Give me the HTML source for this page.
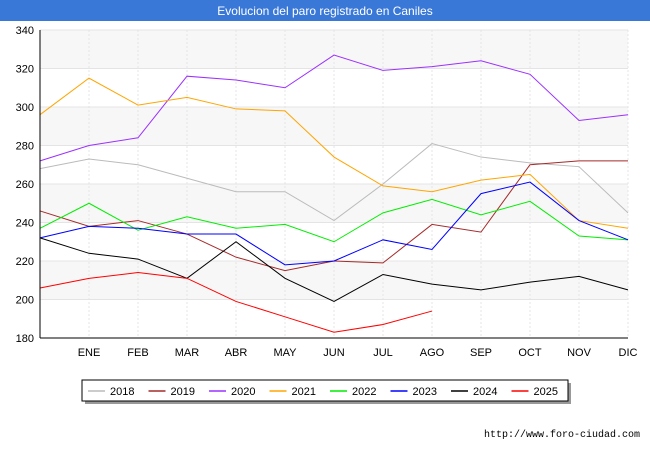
<!DOCTYPE html>
<html><head><meta charset="utf-8"><style>
body{margin:0;background:#fff;font-family:"Liberation Sans",sans-serif}
#wrap{position:relative;width:650px;height:450px;overflow:hidden;background:#fff}
</style></head><body>
<div id="wrap">
<svg id="chart" width="650" height="450" xmlns="http://www.w3.org/2000/svg">
<rect x="0" y="0" width="650" height="21" fill="#3a78d8"/>
<text x="325" y="15" text-anchor="middle" font-size="12" fill="#fff" font-family="Liberation Sans, sans-serif">Evolucion del paro registrado en Caniles</text>
<g id="grid"></g>
<g id="series"></g>
<g id="axes"></g>
<g id="legend"></g>
<text x="640" y="437" text-anchor="end" font-size="10" fill="#000" font-family="Liberation Mono, monospace">http://www.foro-ciudad.com</text>
</svg>
</div>
<script>
const months = ["", "ENE", "FEB", "MAR", "ABR", "MAY", "JUN", "JUL", "AGO", "SEP", "OCT", "NOV", "DIC"];
const yTicks = [180, 200, 220, 240, 260, 280, 300, 320, 340];
const seriesNames = ["2018", "2019", "2020", "2021", "2022", "2023", "2024", "2025"];
const seriesColors = ["#bbbbbb", "#a52a2a", "#9b30ff", "#ffa500", "#00ee00", "#0000ff", "#000000", "#ff0000"];
const s2018 = [268, 273, 270, 263, 256, 256, 241, 260, 281, 274, 271, 269, 245];
const s2019 = [246, 238, 241, 234, 222, 215, 220, 219, 239, 235, 270, 272, 272];
const s2020 = [272, 280, 284, 316, 314, 310, 327, 319, 321, 324, 317, 293, 296];
const s2021 = [296, 315, 301, 305, 299, 298, 274, 259, 256, 262, 265, 241, 237];
const s2022 = [237, 250, 236, 243, 237, 239, 230, 245, 252, 244, 251, 233, 231];
const s2023 = [232, 238, 237, 234, 234, 218, 220, 231, 226, 255, 261, 241, 231];
const s2024 = [232, 224, 221, 211, 230, 211, 199, 213, 208, 205, 209, 212, 205];
const s2025 = [206, 211, 214, 211, 199, 191, 183, 187, 194];
const allSeries = [s2018, s2019, s2020, s2021, s2022, s2023, s2024, s2025];

const NS = "http://www.w3.org/2000/svg";
const L = 40, R = 628, T = 30, B = 338, yMin = 180, yMax = 340;
const xScale = i => L + i * (R - L) / (months.length - 1);
const yScale = v => B - (v - yMin) * (B - T) / (yMax - yMin);
function mk(tag, attrs, parent){const e=document.createElementNS(NS,tag);for(const k in attrs)e.setAttribute(k,attrs[k]);parent.appendChild(e);return e;}

const grid = document.getElementById("grid");
for (let i = 0; i < yTicks.length - 1; i++) {
  if (i % 2 === 1) {
    const r = mk("rect",{x:L,y:yScale(yTicks[i+1]),width:R-L,height:yScale(yTicks[i])-yScale(yTicks[i+1]),fill:"#f7f7f7"},grid);
    
    
  }
}
yTicks.forEach(v => {
  const l = mk("line",{x1:L,x2:R,y1:yScale(v),y2:yScale(v),stroke:"#e4e4e4","stroke-width":1},grid);
  
  
});
months.forEach((m, i) => {
  if (i === 0) return;
  const l = mk("line",{x1:xScale(i),x2:xScale(i),y1:T,y2:B,stroke:"#e4e4e4","stroke-width":1,"stroke-dasharray":"2,2"},grid);
  
  
});

const axes = document.getElementById("axes");
const ya = mk("line",{x1:L,x2:L,y1:T,y2:B,stroke:"#000"},axes);


const xa = mk("line",{x1:L,x2:R,y1:B,y2:B,stroke:"#000"},axes);


yTicks.forEach(v => {
  const t = mk("text",{x:L-6,y:yScale(v)+4,"text-anchor":"end","font-size":11,fill:"#000"},axes);
  t.textContent = v;
  
  
});
months.forEach((m, i) => {
  if (!m) return;
  const t = mk("text",{x:xScale(i),y:B+18,"text-anchor":"middle","font-size":11,fill:"#000"},axes);
  t.textContent = m;
  
  
});

const sg = document.getElementById("series");
allSeries.forEach((s, k) => {
  const pts = s.map((v, i) => xScale(i) + "," + yScale(v)).join(" ");
  const p = mk("polyline",{points:pts,fill:"none",stroke:seriesColors[k],"stroke-width":1},sg);
  
  
});

const lg = document.getElementById("legend");
mk("rect",{x:85,y:383,width:486,height:21,fill:"#999"},lg);
const box = mk("rect",{x:82,y:380,width:486,height:21,fill:"#fff",stroke:"#000","stroke-width":1},lg);


seriesNames.forEach((n, k) => {
  const x0 = 88 + k * 60.5;
  const l = mk("line",{x1:x0,x2:x0+17,y1:391,y2:391,stroke:seriesColors[k],"stroke-width":1.5},lg);
  
  
  const t = mk("text",{x:x0+22,y:395,"font-size":11,fill:"#000"},lg);
  t.textContent = n;
  
  
});
</script>
</body></html>
